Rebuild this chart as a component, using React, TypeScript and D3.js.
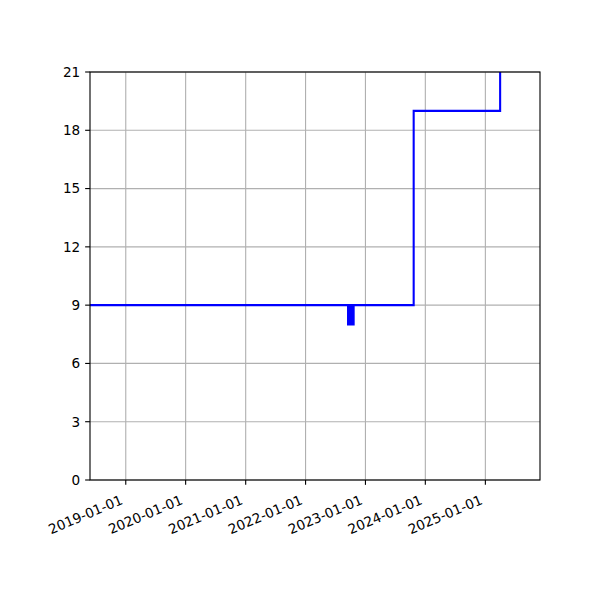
import React from "react";
import * as d3 from "d3";

const dates: string[] = [
  "2018-01-01",
  "2022-09-17", "2022-09-21", "2022-09-25", "2022-09-29", "2022-10-03",
  "2022-10-07", "2022-10-11", "2022-10-15", "2022-10-19", "2022-10-21",
  "2023-10-22",
  "2025-04-01",
  "2025-12-31",
];
const values: number[] = [
  9,
  8, 9, 8, 9, 8,
  9, 8, 9, 8, 9,
  19,
  24,
  24,
];
const xTickDates: string[] = [
  "2019-01-01", "2020-01-01", "2021-01-01", "2022-01-01",
  "2023-01-01", "2024-01-01", "2025-01-01",
];
const yTicks: number[] = [0, 3, 6, 9, 12, 15, 18, 21];
const xDomain: string[] = ["2018-05-28", "2025-11-30"];
const yDomain: number[] = [0, 21];

const W = 600, H = 600;
const L = 90, R = 540, T = 72, B = 480;
const FONT = "DejaVu Sans";
const FS = 13.6;
const PT = 100 / 72;

export default function App() {
  const parse = (s: string) => new Date(s + "T00:00:00Z");
  const x = d3.scaleUtc().domain(xDomain.map(parse)).range([L, R]);
  const y = d3.scaleLinear().domain(yDomain).range([B, T]);
  const pts: [Date, number][] = dates.map((d, i) => [parse(d), values[i]]);
  const line = d3
    .line<[Date, number]>()
    .x((d) => x(d[0]))
    .y((d) => y(d[1]))
    .curve(d3.curveStepAfter);
  const tickLen = 3.5 * PT;
  const pad = 3.5 * PT;
  return (
    <svg width={W} height={H} style={{ display: "block", position: "absolute", left: 0, top: 0 }}>
      <rect x={0} y={0} width={W} height={H} fill="#ffffff" />
      <defs>
        <clipPath id="plotclip">
          <rect x={L} y={T} width={R - L} height={B - T} />
        </clipPath>
      </defs>
      {xTickDates.map((t) => (
        <line key={"gx" + t} x1={x(parse(t))} x2={x(parse(t))} y1={T} y2={B} stroke="#b0b0b0" strokeWidth={0.8 * PT} />
      ))}
      {yTicks.map((t) => (
        <line key={"gy" + t} x1={L} x2={R} y1={y(t)} y2={y(t)} stroke="#b0b0b0" strokeWidth={0.8 * PT} />
      ))}
      <path d={line(pts) || ""} fill="none" stroke="#0000ff" strokeWidth={1.5 * PT} clipPath="url(#plotclip)" />
      <rect x={L} y={T} width={R - L} height={B - T} fill="none" stroke="#000" strokeWidth={0.8 * PT} />
      {yTicks.map((t) => (
        <g key={"yt" + t}>
          <line x1={L - tickLen} x2={L} y1={y(t)} y2={y(t)} stroke="#000" strokeWidth={0.8 * PT} />
          <text x={L - tickLen - pad} y={y(t)} dy="0.36em" textAnchor="end" fontFamily={FONT} fontSize={FS} fill="#000">
            {t}
          </text>
        </g>
      ))}
      {xTickDates.map((t) => {
        const px = x(parse(t));
        const ax = px - 2;
        const ay = 503.5;
        return (
          <g key={"xt" + t}>
            <line x1={px} x2={px} y1={B} y2={B + tickLen} stroke="#000" strokeWidth={0.8 * PT} />
            <text
              x={ax}
              y={ay}
              textAnchor="end"
              transform={`rotate(-23 ${ax} ${ay})`}
              fontFamily={FONT}
              fontSize={FS}
              fill="#000"
            >
              {t}
            </text>
          </g>
        );
      })}
    </svg>
  );
}
